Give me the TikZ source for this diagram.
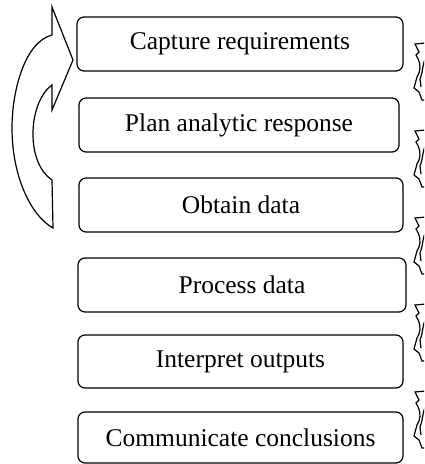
\documentclass[tikz,border=0pt]{standalone}
\usepackage{fontspec}
\setmainfont{Liberation Serif}
\begin{document}
\begin{tikzpicture}[x=1pt,y=-1pt,
  stepbox/.style={draw=black,line width=1.2pt,rounded corners=7pt,minimum height=54pt,inner sep=0pt,font=\fontsize{25.5}{30}\selectfont},
  shapeline/.style={draw=black,line width=1.2pt,fill=white,line join=miter}]
\useasboundingbox (0,0) rectangle (424,464);
% steps
\node[stepbox,minimum width=326pt] (b1) at (240,44) {Capture requirements};
\node[stepbox,minimum width=320pt] (b2) at (239,125) {Plan analytic response};
\node[stepbox,minimum width=324pt] (b3) at (241,205) {Obtain data};
\node[stepbox,minimum width=328pt] (b4) at (242,285) {Process data};
\node[stepbox,minimum width=325pt,minimum height=53pt] (b5) at (240.5,361.5) {Interpret outputs};
\node[stepbox,minimum width=325pt,minimum height=51pt] (b6) at (240.5,437.5) {Communicate conclusions};
% left curved arrow
\path[shapeline] (73,60) -- (52,7) -- (52,35)
  .. controls (25,42) and (12,90) .. (12,128)
  .. controls (12,175) and (30,215) .. (53,228)
  -- (52,180)
  .. controls (40,172) and (33,155) .. (33,134)
  .. controls (33,110) and (42,92) .. (52,85)
  -- (52,110) -- cycle;
% right squiggle arrows (partly off the page)
\begin{scope}
\clip (0,0) rectangle (424,464);
\foreach \y in {43,130,217,304,391}{
  \path[shapeline] (426,\y) -- (415,\y+1) -- (419,\y+9) -- (416,\y+12)
    .. controls (420,\y+18) and (421,\y+24) .. (419,\y+30)
    -- (417,\y+34) -- (414,\y+45) -- (419,\y+49) -- (422,\y+57) -- (426,\y+57) -- cycle;
  \draw[line width=1.2pt] (426,\y+14) .. controls (422,\y+22) and (423,\y+30) .. (420,\y+36) -- (421,\y+44);
}
\end{scope}
\end{tikzpicture}
\end{document}
